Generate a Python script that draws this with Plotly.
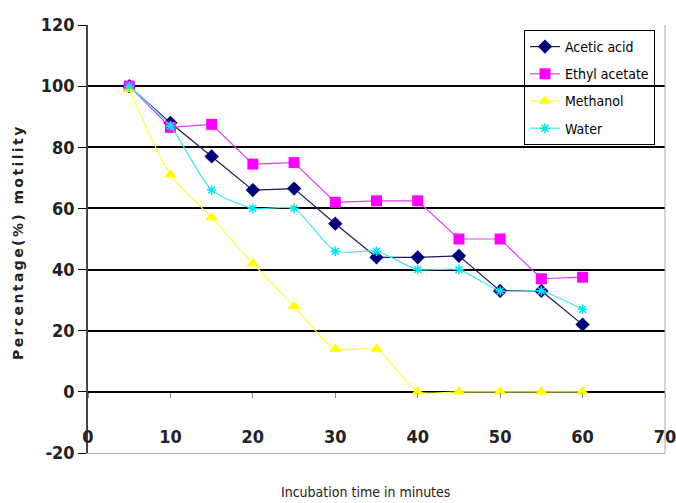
import plotly.graph_objects as go

time_min = [5, 10, 15, 20, 25, 30, 35, 40, 45, 50, 55, 60]
acetic_acid = [100, 88, 77, 66, 66.5, 55, 44, 44, 44.5, 33, 33, 22]
ethyl_acetate = [100, 86.5, 87.5, 74.5, 75, 62, 62.5, 62.5, 50, 50, 37, 37.5]
methanol = [99, 71, 57, 42, 28, 14, 14, 0, 0, 0, 0, 0]
water = [100, 87, 66, 60, 60, 46, 46, 40, 40, 33, 33, 27]

x_ticks = [0, 10, 20, 30, 40, 50, 60, 70]
y_ticks = [-20, 0, 20, 40, 60, 80, 100, 120]

COND = "DejaVu Sans Condensed, DejaVu Sans, sans-serif"

L, T, PW, PH = 88, 25, 577, 428

fig = go.Figure()
fig.add_trace(go.Scatter(x=time_min, y=acetic_acid, name="Acetic acid", mode="lines+markers",
                         legendgroup="a",
                         line=dict(color="#1a1a5e", width=1.2),
                         marker=dict(symbol="diamond", size=11, color="#00007a")))
fig.add_trace(go.Scatter(x=time_min, y=ethyl_acetate, name="Ethyl acetate", mode="lines+markers",
                         legendgroup="b",
                         line=dict(color="#e040e0", width=1.2),
                         marker=dict(symbol="square", size=11, color="#ff00ff")))
fig.add_trace(go.Scatter(x=time_min, y=methanol, name="Methanol", mode="lines+markers",
                         legendgroup="c",
                         line=dict(color="#ffff40", width=1.2, shape="spline", smoothing=0.6),
                         marker=dict(symbol="triangle-up", size=11, color="#ffff00")))
fig.add_trace(go.Scatter(x=time_min, y=water, name="Water", mode="lines+markers",
                         legendgroup="d",
                         line=dict(color="#40e8f0", width=1.2, shape="spline", smoothing=0.6),
                         marker=dict(symbol="asterisk-open", size=8, color="#00e5ee",
                                     line=dict(color="#00e5ee", width=1.5))))
# empty helper traces so the extra axes are drawn
fig.add_trace(go.Scatter(x=[], y=[], xaxis="x2", showlegend=False, hoverinfo="skip"))
fig.add_trace(go.Scatter(x=[], y=[], xaxis="x3", showlegend=False, hoverinfo="skip"))

fig.update_layout(
    width=676, height=503,
    margin=dict(l=L, r=676 - L - PW, t=T, b=503 - T - PH, autoexpand=False),
    paper_bgcolor="white", plot_bgcolor="white",
    showlegend=True,
    legend=dict(x=(524 - L) / PW, y=(T + PH - 30) / PH, xanchor="left", yanchor="top",
                bgcolor="rgba(255,255,255,0)", bordercolor="black", borderwidth=1,
                font=dict(family=COND, size=14, color="black"),
                itemwidth=30, traceorder="grouped", tracegroupgap=6),
    xaxis=dict(range=[0, 70], showticklabels=False, ticks="", automargin=False,
               showgrid=False, zeroline=False,
               showline=True, linecolor="#aaaaaa", linewidth=1),
    xaxis2=dict(range=[0, 70], overlaying="x", anchor="free", position=20 / 140,
                tickvals=x_ticks, ticks="outside", ticklen=5, tickcolor="#888",
                showticklabels=False, showgrid=False, zeroline=False, automargin=False,
                showline=False),
    xaxis3=dict(range=[0, 70], overlaying="x", anchor="free", position=(453 - 424) / PH,
                tickvals=x_ticks, ticktext=[str(v) for v in x_ticks], ticks="",
                ticklabeloverflow="allow",
                tickfont=dict(family=COND, size=18, color="#222", weight="bold"),
                showgrid=False, zeroline=False, showline=False, automargin=False),
    yaxis=dict(range=[-20, 120], tickvals=y_ticks, ticktext=[str(v) for v in y_ticks],
               ticks="outside", ticklen=8, tickcolor="black", automargin=False,
               tickfont=dict(family=COND, size=18, color="#222", weight="bold"),
               showgrid=True, gridcolor="black", gridwidth=1.5,
               zeroline=True, zerolinecolor="black", zerolinewidth=1.8,
               showline=True, linecolor="#444", linewidth=1.5),
    annotations=[
        dict(text='<span style="letter-spacing:2.4px">Percentage(%) motility</span>',
             textangle=-90, xref="paper", yref="paper",
             x=(18 - L) / PW, y=(T + PH - 242) / PH, xanchor="center", yanchor="middle",
             showarrow=False,
             font=dict(family="DejaVu Sans", size=14, color="#222", weight="bold")),
        dict(text="Incubation time in minutes", xref="paper", yref="paper",
             x=(365 - L) / PW, y=(T + PH - 492) / PH, xanchor="center", yanchor="middle",
             showarrow=False,
             font=dict(family=COND, size=14, color="#222")),
    ],
)

fig.add_shape(type="line", xref="paper", yref="paper", x0=1, x1=1, y0=0, y1=1,
              line=dict(color="#aaaaaa", width=1))

fig.write_html("out.html", config={"displayModeBar": False},
               post_script="document.body.style.margin='0';document.body.style.overflow='hidden';")
